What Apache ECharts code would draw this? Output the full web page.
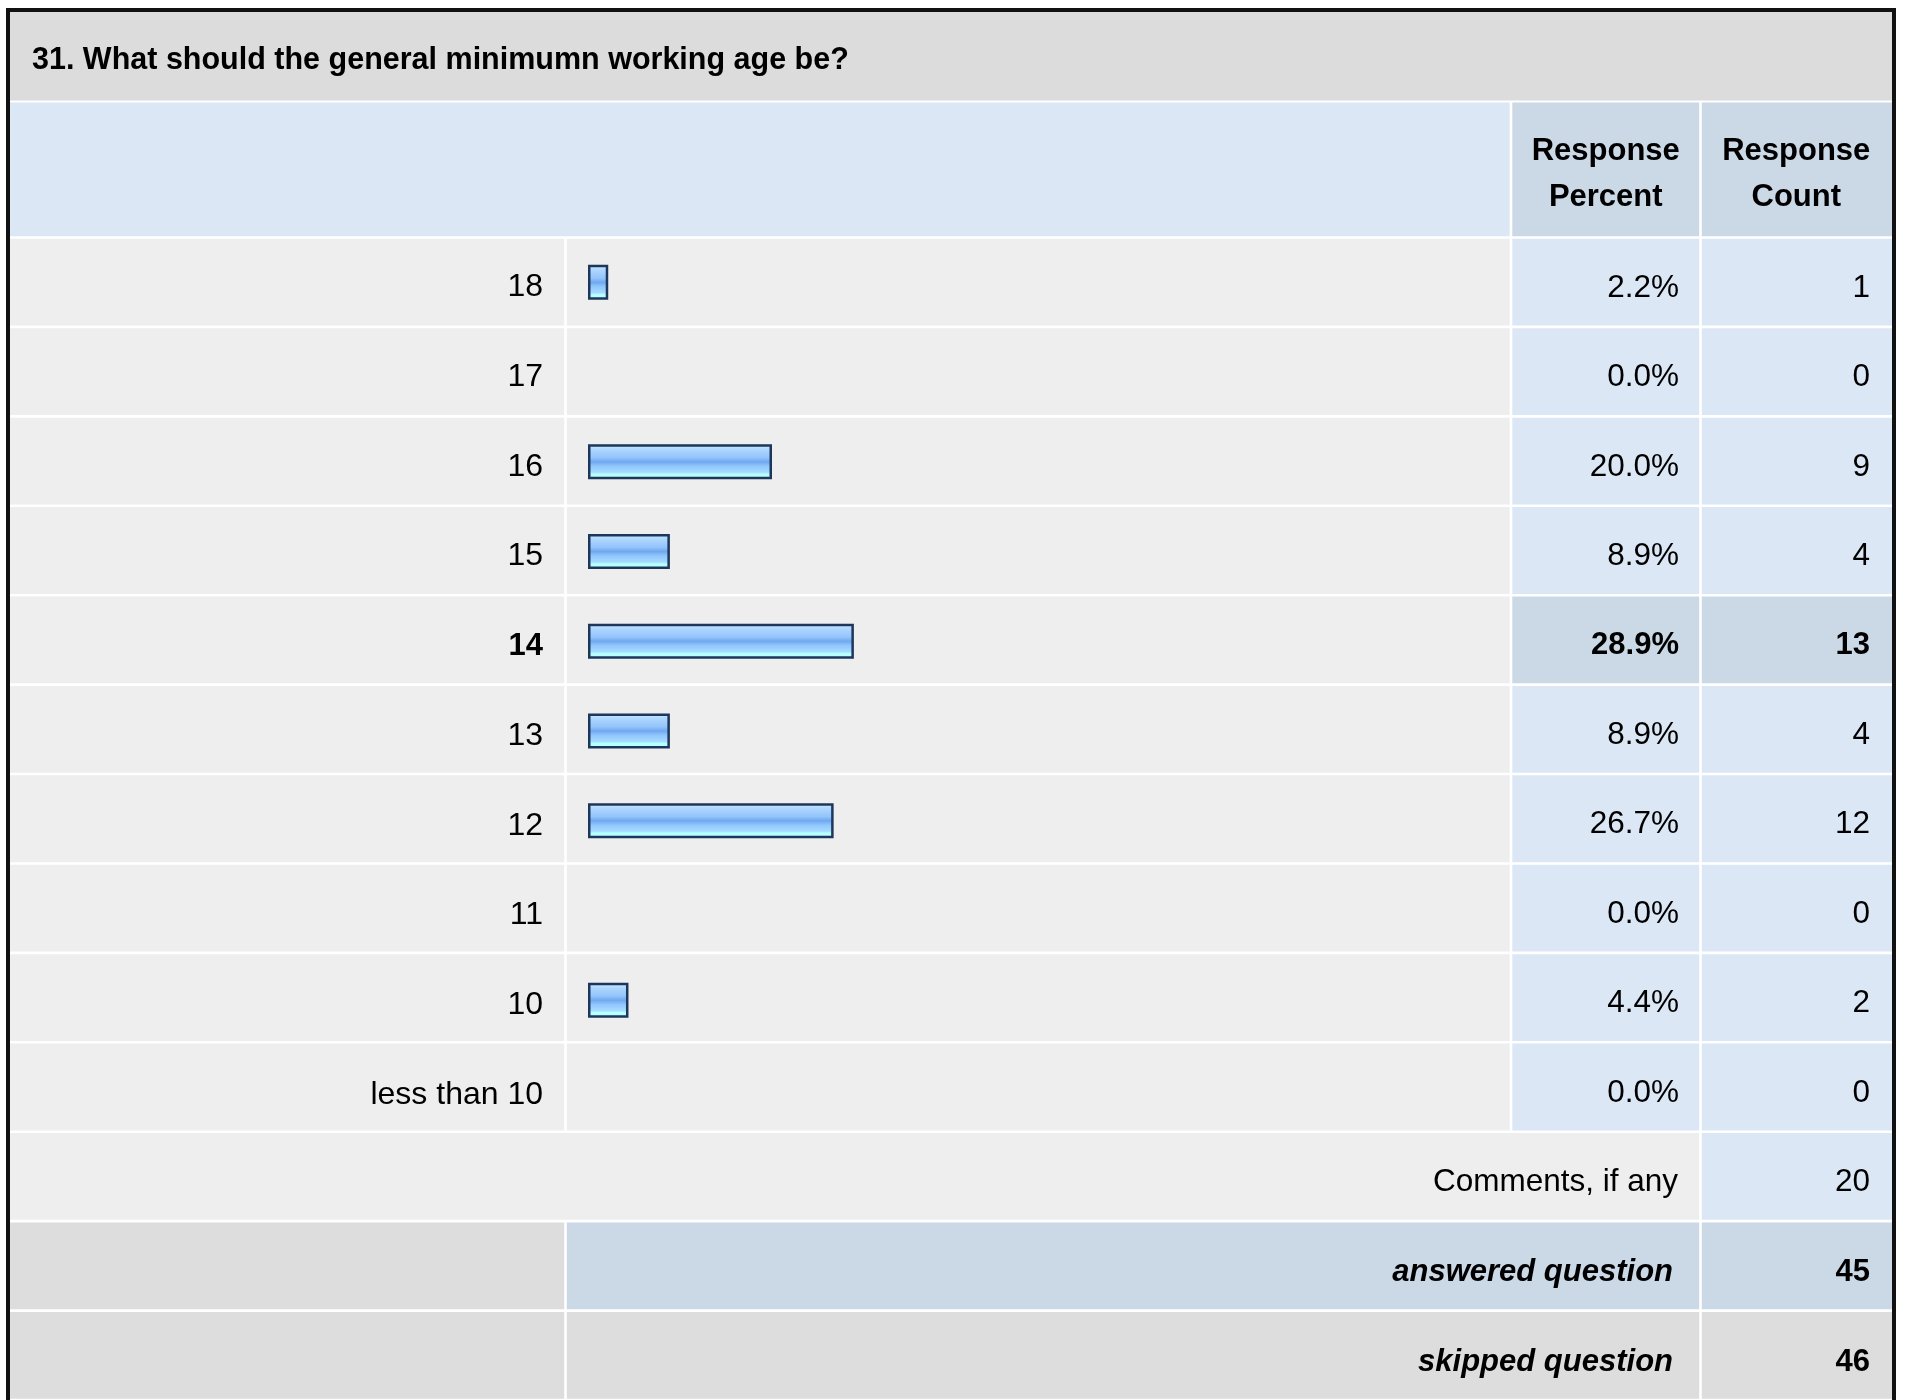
<!DOCTYPE html>
<html><head><meta charset="utf-8">
<script src="https://cdn.jsdelivr.net/npm/echarts@6/dist/echarts.min.js"></script>
<style>html,body{margin:0;padding:0;background:#fff;}#c{width:1907px;height:1400px;}</style>
</head><body><div id="c"></div>
<script>
// ---------------- data ----------------
const titleText = '31. What should the general minimumn working age be?';
const columnHeaders = [['Response', 'Percent'], ['Response', 'Count']];
const categories = ['18', '17', '16', '15', '14', '13', '12', '11', '10', 'less than 10'];
const percents = [2.2, 0.0, 20.0, 8.9, 28.9, 8.9, 26.7, 0.0, 4.4, 0.0];
const counts = [1, 0, 9, 4, 13, 4, 12, 0, 2, 0];
const commentsLabel = 'Comments, if any';
const commentsCount = 20;
const footerLabels = ['answered question', 'skipped question'];
const footerCounts = [45, 46];

// ---------------- layout / style ----------------
const FONT = '"Liberation Sans", Arial, Helvetica, sans-serif';
const COL = [10, 565.5, 1511, 1700.5, 1892];
const G = 1.3;
const ROW_TOP = 237.5, ROW_H = 89.73;
const C_ROW = '#eeeeee', C_BLUE = '#dce7f5', C_HI = '#cbd8e6', C_GRAY = '#dddddd', C_TITLE = '#dcdcdc';
const PCT_R = 1679, CNT_R = 1870, LBL_R = 1678, FOOT_R = 1673;
const DY = 6;

const maxIdx = counts.indexOf(Math.max(...counts));
const rowKeys = categories.concat(['comments', 'answered', 'skipped']);

function cellX(a, b) {
  const x0 = COL[a] + (a === 0 ? 0 : G);
  const x1 = COL[b] - (b === COL.length - 1 ? 0 : G);
  return [x0, x1 - x0];
}
function txt(x, y, s, font, align) {
  return { type: 'text', x: x, y: y, style: { text: s, font: font, fill: '#000', align: align || 'right', verticalAlign: 'middle' } };
}

function bodyItem(params, api) {
  const r = params.dataIndex;
  const c = api.coord([0, r]);
  const h = api.size([0, 1])[1];
  const top = c[1] - h / 2 + G, hh = h - 2 * G;
  const ty = c[1] + DY;
  const kids = [];
  const cell = (a, b, fill) => { const [x, w] = cellX(a, b); kids.push({ type: 'rect', shape: { x: x, y: top, width: w, height: hh }, style: { fill: fill } }); };
  const reg = '31.5px ' + FONT, bold = 'bold 31px ' + FONT, bi = 'italic bold 31px ' + FONT;
  if (r < categories.length) {
    const hi = r === maxIdx;
    cell(0, 1, C_ROW); cell(1, 2, C_ROW);
    cell(2, 3, hi ? C_HI : C_BLUE); cell(3, 4, hi ? C_HI : C_BLUE);
    kids.push(txt(PCT_R, ty, percents[r].toFixed(1) + '%', hi ? bold : reg));
    kids.push(txt(CNT_R, ty, String(counts[r]), hi ? bold : reg));
  } else if (r === categories.length) {
    cell(0, 3, C_ROW); cell(3, 4, C_BLUE);
    kids.push(txt(LBL_R, ty, commentsLabel, reg));
    kids.push(txt(CNT_R, ty, String(commentsCount), reg));
  } else {
    const k = r - categories.length - 1;
    const fill = k === 0 ? C_HI : C_GRAY;
    cell(0, 1, C_GRAY); cell(1, 3, fill); cell(3, 4, fill);
    kids.push(txt(FOOT_R, ty + 1, footerLabels[k], bi));
    kids.push(txt(CNT_R, ty + 1, String(footerCounts[k]), bold));
  }
  return { type: 'group', children: kids };
}

// header (static)
const headerGraphics = [];
function hcell(a, b, fill) { const [x, w] = cellX(a, b); headerGraphics.push({ type: 'rect', shape: { x: x, y: 102.5, width: w, height: 237.5 - G - 102.5 }, style: { fill: fill }, z: 1 }); }
hcell(0, 2, C_BLUE); hcell(2, 3, C_HI); hcell(3, 4, C_HI);
columnHeaders.forEach((lines, j) => {
  const cx = (COL[2 + j] + COL[3 + j]) / 2;
  lines.forEach((s, li) => headerGraphics.push(Object.assign(txt(cx, 151 + li * 46, s, 'bold 31px ' + FONT, 'center'), { z: 2 })));
});

const gradient = new echarts.graphic.LinearGradient(0, 0, 0, 1, [
  { offset: 0, color: '#d2eaff' }, { offset: 0.15, color: '#aed6ff' },
  { offset: 0.38, color: '#93c4fb' }, { offset: 0.5, color: '#70a8ef' },
  { offset: 0.62, color: '#90c6fd' }, { offset: 0.8, color: '#a6dcff' },
  { offset: 0.85, color: '#b6ffff' }, { offset: 1, color: '#b6ffff' }
]);

const chart = echarts.init(document.getElementById('c'), null, { renderer: 'canvas' });
chart.setOption({
  animation: false,
  backgroundColor: '#ffffff',
  textStyle: { fontFamily: FONT },
  graphic: [
    { type: 'rect', shape: { x: 10, y: 12, width: 1882, height: 100.5 - 12 }, style: { fill: C_TITLE }, z: 1 },
    Object.assign(txt(32, 61, titleText, 'bold 30.5px ' + FONT, 'left'), { z: 2 }),
    ...headerGraphics,
    { type: 'rect', shape: { x: 8, y: 10, width: 1886, height: 1500 }, style: { fill: 'none', stroke: '#111', lineWidth: 4 }, z: 100 }
  ],
  grid: [
    { left: COL[0], width: COL[4] - COL[0], top: ROW_TOP, height: ROW_H * rowKeys.length },
    { left: 588, width: 920, top: ROW_TOP, height: ROW_H * categories.length }
  ],
  xAxis: [
    { gridIndex: 0, type: 'value', min: 0, max: 1, show: false },
    { gridIndex: 1, type: 'value', min: 0, max: 100, show: false }
  ],
  yAxis: [
    { gridIndex: 0, type: 'category', data: rowKeys, inverse: true, show: false },
    {
      gridIndex: 1, type: 'category', data: categories, inverse: true,
      axisLine: { show: false }, axisTick: { show: false }, splitLine: { show: false },
      axisLabel: {
        margin: 45, fontSize: 32, color: '#000', fontFamily: FONT, padding: [10, 0, 0, 0],
        formatter: (v, i) => (i === maxIdx ? '{b|' + v + '}' : '{n|' + v + '}'),
        rich: { b: { fontWeight: 'bold', fontSize: 31, color: '#000', fontFamily: FONT }, n: { fontSize: 32, color: '#000', fontFamily: FONT } }
      },
      z: 5
    }
  ],
  series: [
    { type: 'custom', xAxisIndex: 0, yAxisIndex: 0, data: rowKeys.map((k, i) => [0, i]), encode: { x: 0, y: 1 }, renderItem: bodyItem, z: 0, silent: true },
    {
      type: 'bar', xAxisIndex: 1, yAxisIndex: 1, barWidth: 35, z: 3,
      data: percents.map(v => (v > 0 ? v : { value: v, itemStyle: { borderWidth: 0, opacity: 0 } })),
      itemStyle: { color: gradient, borderColor: '#1d375c', borderWidth: 2.5 }
    }
  ]
});
</script>
</body></html>
